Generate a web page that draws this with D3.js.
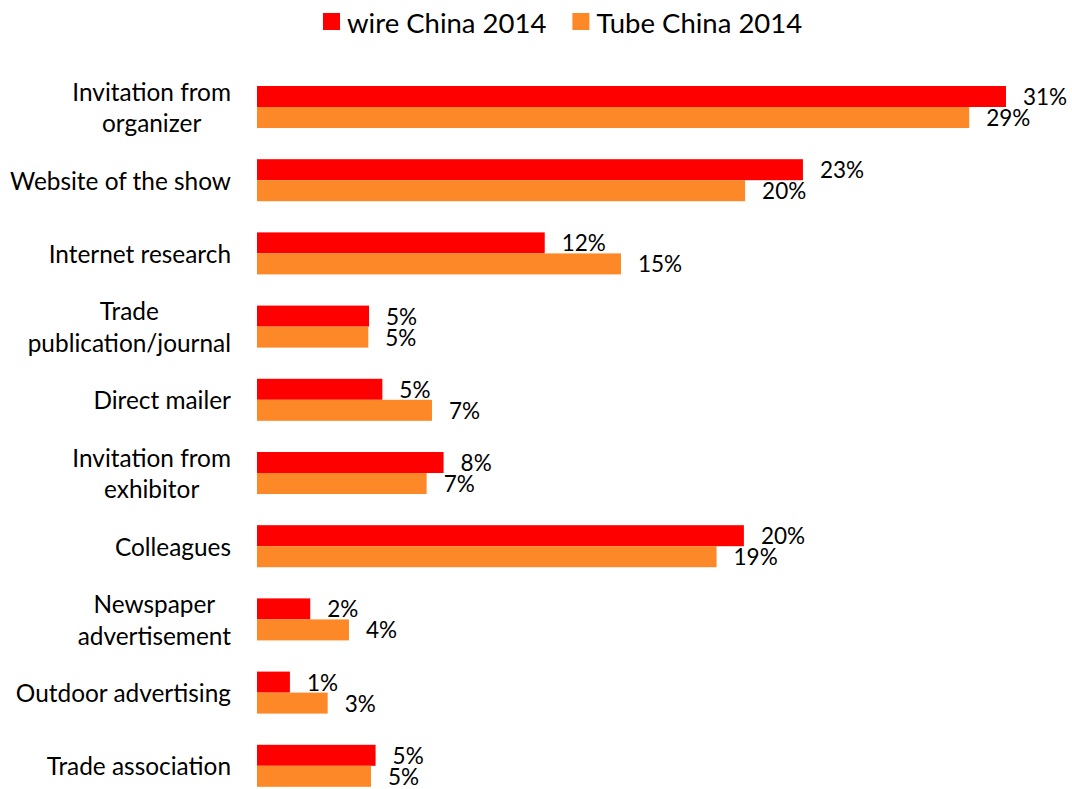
<!DOCTYPE html>
<html>
<head>
<meta charset="utf-8">
<script src="https://cdn.jsdelivr.net/npm/d3@7"></script>
<style>
  html, body { margin: 0; padding: 0; background: #fff; }
  svg text { font-family: Lato, "Open Sans", sans-serif; fill: #000; }
</style>
</head>
<body>
<svg id="chart" width="1072" height="789"></svg>
<script>
// How visitors learned about the show (share of respondents, %)
const categories = [
  ["Invitation from", "organizer"],
  ["Website of the show"],
  ["Internet research"],
  ["Trade", "publication/journal"],
  ["Direct mailer"],
  ["Invitation from", "exhibitor"],
  ["Colleagues"],
  ["Newspaper", "advertisement"],
  ["Outdoor advertising"],
  ["Trade association"]
];
const seriesNames = ["wire China 2014", "Tube China 2014"];
const wireChina2014 = [30.95, 22.56, 11.89, 4.63, 5.18, 7.71, 20.12, 2.20, 1.36, 4.90];
const tubeChina2014 = [29.43, 20.17, 15.04, 4.60, 7.23, 7.01, 18.99, 3.80, 2.92, 4.71];
const seriesColors = ["#FF0000", "#FD8827"];

const svg = d3.select("#chart");
const keys = categories.map((c, i) => "c" + i);
const series = [wireChina2014, tubeChina2014];

const x = d3.scaleLinear().domain([0, 30]).range([257, 257 + 726]);
const y = d3.scaleBand().domain(keys).range([70.4, 802.4]).paddingInner(0.426).paddingOuter(0.213);
const ySub = d3.scaleBand().domain([0, 1]).range([0, y.bandwidth()]);

const fmt = v => d3.format(".0f")(v) + "%";

// bars
const groups = svg.append("g").selectAll("g")
  .data(keys)
  .join("g")
  .attr("transform", d => `translate(0,${y(d)})`);

groups.selectAll("rect")
  .data((d, i) => series.map((s, j) => ({ s: j, v: s[i] })))
  .join("rect")
  .attr("x", x(0))
  .attr("y", d => ySub(d.s))
  .attr("width", d => x(d.v) - x(0))
  .attr("height", ySub.bandwidth())
  .attr("fill", d => seriesColors[d.s]);

// value labels
groups.selectAll("text.val")
  .data((d, i) => series.map((s, j) => ({ s: j, v: s[i] })))
  .join("text")
  .attr("class", "val")
  .attr("x", d => x(d.v) + 17)
  .attr("y", d => ySub(d.s) + ySub.bandwidth() / 2)
  .attr("dominant-baseline", "central")
  .style("font-size", "22.5px")
  .text(d => fmt(d.v));

// category labels (multi-line labels centred within their block, block right-aligned)
const labelRight = 231;
const catLayer = svg.append("g");
categories.forEach((lines, i) => {
  const cy = y(keys[i]) + y.bandwidth() / 2;
  const lineGap = 31.6;
  const g = catLayer.append("g");
  const texts = lines.map((ln, k) => g.append("text")
    .attr("y", cy + (k - (lines.length - 1) / 2) * lineGap)
    .attr("dominant-baseline", "central")
    .style("font-size", "24.4px")
    .text(ln));
  const widths = texts.map(t => t.node().getComputedTextLength());
  const maxW = d3.max(widths);
  texts.forEach((t, k) => t.attr("x", labelRight - maxW / 2).attr("text-anchor", "middle"));
});

// legend
const legend = svg.append("g");
let lx = 323;
seriesNames.forEach((name, j) => {
  legend.append("rect").attr("x", lx).attr("y", 13).attr("width", 17).attr("height", 17)
    .attr("fill", seriesColors[j]);
  const t = legend.append("text")
    .attr("x", lx + 24).attr("y", 22)
    .attr("dominant-baseline", "central")
    .style("font-size", "27.5px")
    .text(name);
  lx += 24 + t.node().getComputedTextLength() + 26;
});
</script>
</body>
</html>
